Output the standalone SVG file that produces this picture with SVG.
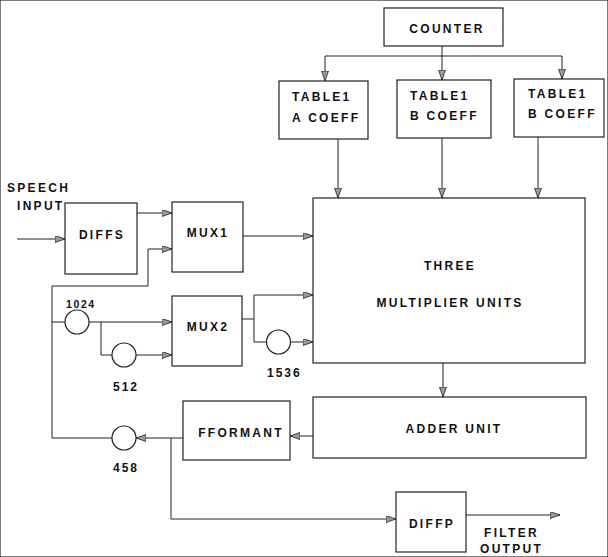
<svg xmlns="http://www.w3.org/2000/svg" width="608" height="557" viewBox="0 0 608 557">
<defs>
<marker id="ah" markerWidth="11" markerHeight="8" refX="10" refY="3.5" orient="auto" markerUnits="userSpaceOnUse">
<path d="M0,0 L10,3.5 L0,7 Z" fill="#999" stroke="#222" stroke-width="0.8"/>
</marker>
</defs>
<style>
rect, circle { fill: #fff; stroke: #222; stroke-width: 1.2; }
.c path { fill: none; stroke: #222; stroke-width: 1; }
.c path.a { marker-end: url(#ah); }
text { font-family: "Liberation Sans", Arial, sans-serif; font-weight: bold; font-size: 12px; letter-spacing: 2.3px; fill: #111; }
.m { text-anchor: middle; }
.n { font-size: 12px; letter-spacing: 2px; }
.s { font-size: 10.5px; letter-spacing: 1.6px; }
</style>
<rect width="608" height="557" fill="#fff" stroke="none"/>

<g class="c" id="connectors">
<path class="a" d="M17,239 H65"/>
<path class="a" d="M137,213 H172"/>
<path class="a" d="M112,438 H52 V286 H148 V249 H172"/>
<path d="M52,322 H65"/>
<path class="a" d="M89,322 H172"/>
<path d="M101,322 V355 H112"/>
<path class="a" d="M136,355 H172"/>
<path class="a" d="M243,236 H313"/>
<path d="M242,319 H254"/>
<path class="a" d="M254,342 V295 H313"/>
<path d="M254,342 H266"/>
<path class="a" d="M291,342 H313"/>
<path d="M442,46 V56"/>
<path d="M325,56 H562"/>
<path class="a" d="M325,56 V81"/>
<path class="a" d="M442,56 V80"/>
<path class="a" d="M562,56 V79"/>
<path class="a" d="M338,139 V198"/>
<path class="a" d="M442,138 V198"/>
<path class="a" d="M538,137 V198"/>
<path class="a" d="M443,363 V397"/>
<path class="a" d="M313,436 H290"/>
<path class="a" d="M183,438 H136"/>
<path class="a" d="M171,438 V519 H396"/>
<path class="a" d="M466,515 H560"/>
</g>

<g id="speech-label">
<text x="7" y="192">SPEECH</text>
<text x="17" y="210">INPUT</text>
</g>
<g id="diffs"><rect x="65" y="203" width="72" height="71"/><text class="m" x="102" y="239">DIFFS</text></g>
<g id="mux1"><rect x="172" y="202" width="71" height="70"/><text class="m" x="208" y="237">MUX1</text></g>
<g id="mux2"><rect x="172" y="296" width="70" height="70"/><text class="m" x="208" y="331">MUX2</text></g>
<g id="c1024"><circle cx="77" cy="322" r="12"/><text class="s" x="66" y="308">1024</text></g>
<g id="c512"><circle cx="124" cy="355" r="12"/><text class="n" x="113" y="391">512</text></g>
<g id="c1536"><circle cx="278.5" cy="342" r="12"/><text class="n" x="267" y="377">1536</text></g>
<g id="c458"><circle cx="124" cy="438" r="12"/><text class="n" x="113" y="472">458</text></g>
<g id="counter"><rect x="384" y="8" width="119" height="38"/><text class="m" x="447" y="33">COUNTER</text></g>
<g id="table-a"><rect x="279" y="81" width="89" height="58"/><text x="292" y="101">TABLE1</text><text x="292" y="122">A COEFF</text></g>
<g id="table-b1"><rect x="397" y="80" width="94" height="58"/><text x="410" y="100">TABLE1</text><text x="410" y="120">B COEFF</text></g>
<g id="table-b2"><rect x="514" y="79" width="90" height="58"/><text x="528" y="98">TABLE1</text><text x="528" y="118">B COEFF</text></g>
<g id="three"><rect x="313" y="198" width="272" height="165"/><text class="m" x="450" y="270">THREE</text><text class="m" x="450" y="307">MULTIPLIER UNITS</text></g>
<g id="adder"><rect x="313" y="397" width="273" height="61"/><text class="m" x="454" y="433">ADDER UNIT</text></g>
<g id="fformant"><rect x="183" y="401" width="107" height="59"/><text class="m" x="241" y="437">FFORMANT</text></g>
<g id="diffp"><rect x="396" y="492" width="70" height="60"/><text class="m" x="432" y="528">DIFFP</text></g>
<g id="filter-label">
<text x="484" y="537">FILTER</text>
<text x="480" y="553">OUTPUT</text>
</g>
</svg>
